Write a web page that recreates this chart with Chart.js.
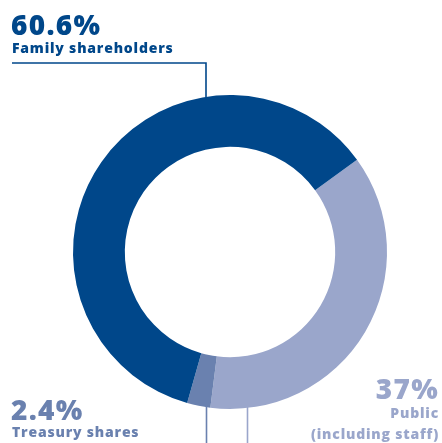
<!DOCTYPE html>
<html>
<head>
<meta charset="utf-8">
<script src="https://cdn.jsdelivr.net/npm/chart.js@4"></script>
<style>
    html, body { margin: 0; padding: 0; background: #fff; }
    #wrap { position: relative; width: 442px; height: 443px; overflow: hidden; }
    #grafico { position: absolute; left: 0; top: 0; }
    .rotulo { position: absolute; font-family: 'Open Sans', sans-serif; font-weight: 800; line-height: 1; white-space: nowrap; }
    .valor { font-size: 28px; letter-spacing: 1.3px; }
    .nome { font-size: 14px; letter-spacing: 0.8px; }
    .dir { text-align: right; }
</style>
</head>
<body>
<div id="wrap">
    <canvas id="grafico" width="442" height="443"></canvas>
    <div class="rotulo valor" style="left:11px; top:10px; color:#00478a;">60.6%</div>
    <div class="rotulo nome" style="left:12px; top:41px; color:#00478a;">Family shareholders</div>

    <div class="rotulo valor" style="left:11px; top:395px; color:#6a81af;">2.4%</div>
    <div class="rotulo nome" style="left:12px; top:425px; color:#6a81af;">Treasury shares</div>

    <div class="rotulo valor dir" style="right:3px; top:374px; color:#9aa6cb;">37%</div>
    <div class="rotulo nome dir" style="right:3px; top:406px; color:#9aa6cb;">Public</div>
    <div class="rotulo nome dir" style="right:3px; top:427px; color:#9aa6cb;">(including staff)</div>
</div>
<script>
// Estrutura acionária (%)
const categorias = ['Public (including staff)', 'Treasury shares', 'Family shareholders'];
const percentuais = [37, 2.4, 60.6];
const cores = ['#9aa6cb', '#6a81af', '#00478a'];

// Linhas-guia ligando cada rótulo à borda externa da sua fatia
const guias = [
    { indice: 2, x: 206, xInicio: 12, y: 63, sentido: 'cima' },
    { indice: 1, x: 206.5, sentido: 'baixo' },
    { indice: 0, x: 247.5, sentido: 'baixo' }
];

const linhasGuia = {
    id: 'linhasGuia',
    afterDatasetsDraw(chart) {
        const ctx = chart.ctx;
        const arcos = chart.getDatasetMeta(0).data;
        ctx.save();
        ctx.lineWidth = 1.6;
        guias.forEach(g => {
            const arco = arcos[g.indice];
            const dx = g.x - arco.x;
            const dy = Math.sqrt(arco.outerRadius * arco.outerRadius - dx * dx);
            ctx.strokeStyle = cores[g.indice];
            ctx.beginPath();
            if (g.sentido === 'cima') {
                ctx.moveTo(g.xInicio, g.y);
                ctx.lineTo(g.x, g.y);
                ctx.lineTo(g.x, arco.y - dy + 1);
            } else {
                ctx.moveTo(g.x, arco.y + dy - 1);
                ctx.lineTo(g.x, chart.height);
            }
            ctx.stroke();
        });
        ctx.restore();
    }
};

new Chart(document.getElementById('grafico').getContext('2d'), {
    type: 'doughnut',
    data: {
        labels: categorias,
        datasets: [{ data: percentuais, backgroundColor: cores, borderWidth: 0 }]
    },
    options: {
        responsive: false,
        animation: false,
        cutout: '67%',
        rotation: 54,
        layout: { padding: { left: 73, right: 55, top: 95, bottom: 34 } },
        plugins: {
            legend: { display: false },
            tooltip: { enabled: false }
        }
    },
    plugins: [linhasGuia]
});
</script>
</body>
</html>
